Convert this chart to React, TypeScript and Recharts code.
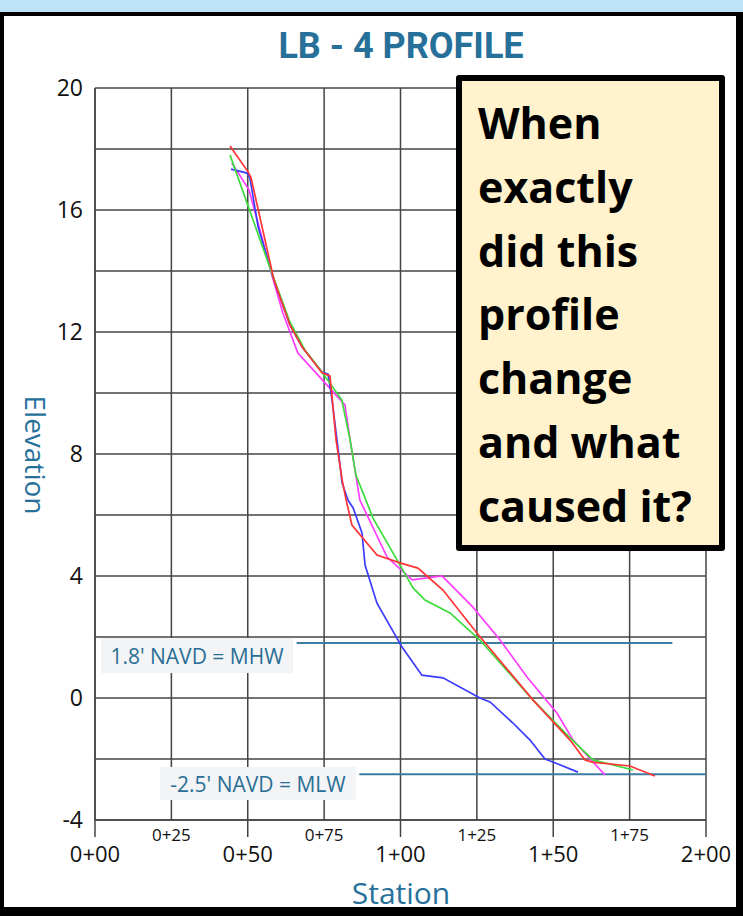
import React from "react";
import {
  LineChart,
  Line,
  XAxis,
  YAxis,
  CartesianGrid,
  ReferenceLine,
} from "recharts";

// survey profiles (station in ft, elevation in ft NAVD)
const redStation = [44.2, 50.1, 51.1, 58.6, 63.8, 67.8, 74.3, 76.9, 77.6, 78.9, 80.9, 82.2, 84.1, 92.3, 99.8, 105.7, 113.9, 125.0, 143.4, 155.5, 160.4, 162.7, 175.1, 183.3];
const redElev = [18.1, 17.25, 17.05, 13.7, 12.23, 11.51, 10.66, 10.56, 9.87, 8.46, 7.15, 6.49, 5.67, 4.69, 4.43, 4.26, 3.54, 2.13, -0.07, -1.38, -2.03, -2.1, -2.23, -2.56];

const greenStation = [44.2, 57.3, 63.8, 68.7, 74.3, 80.8, 83.5, 85.4, 91.0, 98.9, 104.1, 108.0, 116.2, 126.0, 143.4, 155.5, 163.0, 176.1];
const greenElev = [17.8, 14.1, 12.33, 11.41, 10.69, 9.77, 8.46, 7.31, 5.9, 4.52, 3.61, 3.21, 2.79, 1.9, -0.07, -1.31, -2.03, -2.36];

const blueStation = [44.5, 49.8, 50.7, 53.4, 58.6, 63.8, 67.8, 74.3, 76.3, 77.6, 79.2, 80.9, 82.8, 84.5, 87.4, 88.4, 92.3, 100.5, 107.0, 113.9, 126.0, 129.3, 136.8, 142.4, 147.3, 149.9, 158.1];
const blueElev = [17.34, 17.21, 17.05, 15.44, 13.7, 12.23, 11.51, 10.69, 10.62, 9.77, 8.46, 7.05, 6.49, 6.23, 5.41, 4.36, 3.11, 1.67, 0.75, 0.66, 0.0, -0.13, -0.82, -1.38, -2.0, -2.1, -2.43];

const magentaStation = [44.8, 50.4, 54.7, 57.9, 61.5, 66.4, 75.3, 81.8, 83.5, 86.7, 95.6, 103.8, 113.6, 123.7, 132.6, 141.4, 151.2, 156.5, 166.9];
const magentaElev = [17.54, 16.66, 15.08, 13.87, 12.62, 11.31, 10.33, 9.61, 8.46, 6.49, 4.62, 3.87, 4.0, 2.98, 1.9, 0.69, -0.49, -1.38, -2.52];

const stationTicks = [0, 25, 50, 75, 100, 125, 150, 175, 200];
const elevTicks = [-4, -2, 0, 2, 4, 6, 8, 10, 12, 14, 16, 18, 20];

// tidal datums
const MHW = 1.8;
const MHW_FROM = 66;
const MHW_TO = 189;
const MLW = -2.5;
const MLW_FROM = 86.5;
const MLW_TO = 200;

const toRows = (s: number[], e: number[]) => s.map((v, i) => ({ s: v, e: e[i] }));

const series = [
  { key: "magenta", color: "#ff3cff", rows: toRows(magentaStation, magentaElev) },
  { key: "blue", color: "#3c3cff", rows: toRows(blueStation, blueElev) },
  { key: "green", color: "#3cdc3c", rows: toRows(greenStation, greenElev) },
  { key: "red", color: "#ff3535", rows: toRows(redStation, redElev) },
];

const GRID = "#444";
const BLUE_TEXT = "#26709a";
const FONT = "'Open Sans', sans-serif";

const fmtStation = (v: number) =>
  `${Math.floor(v / 100)}+${String(v % 100).padStart(2, "0")}`;

const StationTick = ({ x, y, payload }: any) => {
  const v = payload.value;
  const major = v % 50 === 0;
  return (
    <g>
      {major && <line x1={x} x2={x} y1={y} y2={y + 17} stroke={GRID} strokeWidth={1.5} />}
      <text
        x={x}
        y={major ? y + 42 : y + 21}
        textAnchor="middle"
        fontSize={major ? 22 : 17}
        fontFamily={FONT}
        fill="#111"
      >
        {fmtStation(v)}
      </text>
    </g>
  );
};

const datumBox: React.CSSProperties = {
  position: "absolute",
  background: "#f3f4f5",
  color: "#2a6f96",
  fontFamily: FONT,
  fontSize: 21,
  display: "flex",
  alignItems: "center",
  justifyContent: "center",
  whiteSpace: "nowrap",
};

export default function App() {
  return (
    <div style={{ position: "absolute", left: 0, top: 0, width: 743, height: 916, background: "#bfe3f6", overflow: "hidden" }}>
      <div
        style={{
          position: "absolute",
          left: 0,
          top: 12,
          width: 743,
          height: 904,
          boxSizing: "border-box",
          borderStyle: "solid",
          borderColor: "#000",
          borderWidth: "4px 7px 9px 4px",
          background: "#fff",
        }}
      />
      <div
        style={{
          position: "absolute",
          left: 0,
          width: 802,
          top: 25,
          textAlign: "center",
          fontFamily: "Roboto, sans-serif",
          fontWeight: "bold",
          fontSize: 36,
          lineHeight: "42px",
          color: BLUE_TEXT,
        }}
      >
        LB - 4 PROFILE
      </div>
      <div style={{ position: "absolute", left: 0, top: 0 }}>
        <LineChart width={743} height={916} margin={{ top: 88, right: 37, bottom: 36, left: 35 }}>
          <CartesianGrid stroke={GRID} strokeWidth={1.5} />
          <XAxis
            type="number"
            dataKey="s"
            domain={[0, 200]}
            ticks={stationTicks}
            height={60}
            tickSize={0}
            tickMargin={0}
            tickLine={false}
            axisLine={{ stroke: GRID, strokeWidth: 1.5 }}
            tick={<StationTick />}
            interval={0}
          />
          <YAxis
            type="number"
            dataKey="e"
            domain={[-4, 20]}
            ticks={elevTicks}
            width={60}
            tickSize={0}
            tickMargin={12}
            tickLine={false}
            axisLine={{ stroke: GRID, strokeWidth: 1.5 }}
            interval={0}
            tickFormatter={(v: number) => (v % 4 === 0 ? String(v) : "")}
            tick={{ fontSize: 23, fontFamily: FONT, fill: "#111" }}
          />
          <ReferenceLine
            segment={[{ x: MHW_FROM, y: MHW }, { x: MHW_TO, y: MHW }]}
            stroke="#3a7ca2"
            strokeWidth={2}
          />
          <ReferenceLine
            segment={[{ x: MLW_FROM, y: MLW }, { x: MLW_TO, y: MLW }]}
            stroke="#3a7ca2"
            strokeWidth={2}
          />
          {series.map((s) => (
            <Line
              key={s.key}
              data={s.rows}
              dataKey="e"
              type="linear"
              stroke={s.color}
              strokeWidth={1.7}
              dot={false}
              isAnimationActive={false}
            />
          ))}
        </LineChart>
      </div>
      <div
        style={{
          position: "absolute",
          left: 36,
          top: 455,
          transform: "translate(-50%, -50%)",
          writingMode: "vertical-rl",
          fontFamily: FONT,
          fontSize: 28,
          color: BLUE_TEXT,
          whiteSpace: "nowrap",
        }}
      >
        Elevation
      </div>
      <div
        style={{
          position: "absolute",
          left: 0,
          width: 802,
          top: 873,
          textAlign: "center",
          fontFamily: FONT,
          fontSize: 30,
          lineHeight: "40px",
          color: BLUE_TEXT,
        }}
      >
        Station
      </div>
      <div style={{ ...datumBox, left: 101, top: 638, width: 192, height: 35 }}>1.8' NAVD = MHW</div>
      <div style={{ ...datumBox, left: 160, top: 767, width: 196, height: 33 }}>-2.5' NAVD = MLW</div>
      <div
        style={{
          position: "absolute",
          left: 456,
          top: 75,
          width: 269,
          height: 476,
          boxSizing: "border-box",
          border: "6px solid #000",
          borderRadius: 3,
          background: "#fff2cc",
        }}
      >
        <div
          style={{
            position: "absolute",
            left: 16,
            top: 10,
            fontFamily: FONT,
            fontWeight: "bold",
            fontSize: 43,
            lineHeight: "63.8px",
            color: "#000",
          }}
        >
          When
          <br />
          exactly
          <br />
          did this
          <br />
          profile
          <br />
          change
          <br />
          and what
          <br />
          caused it?
        </div>
      </div>
    </div>
  );
}
